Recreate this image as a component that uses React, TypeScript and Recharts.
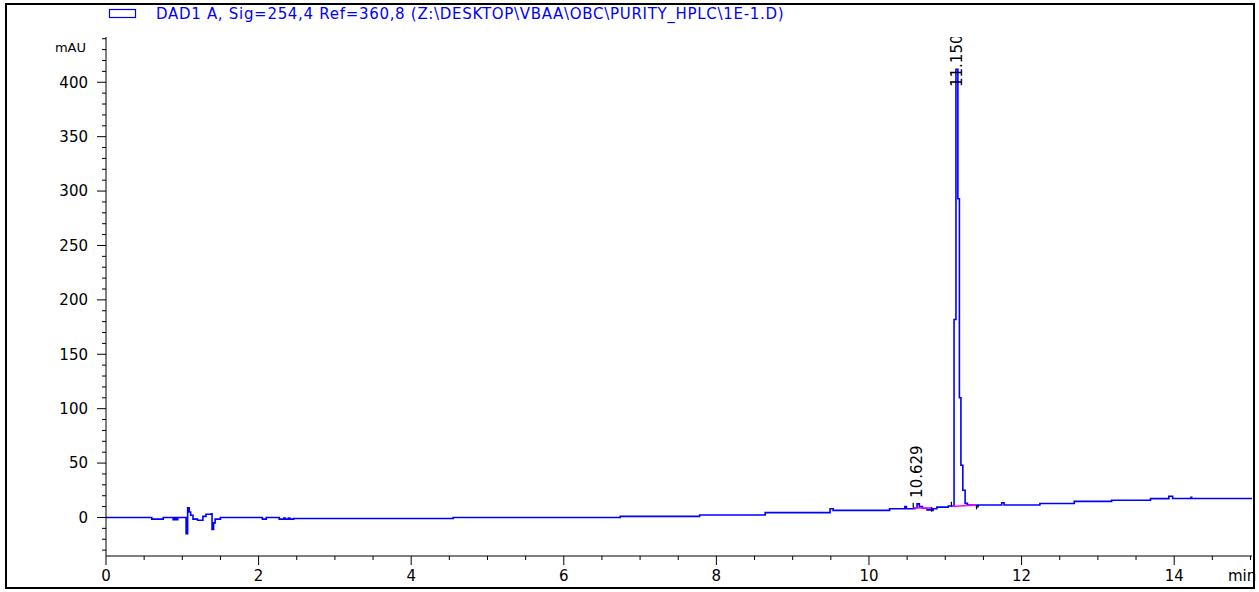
import React from 'react';
import { ComposedChart, Line, Scatter, XAxis, YAxis, ReferenceLine } from 'recharts';

// chromatogram trace: [time (min), signal (mAU)]
const traceTime = [
  0, 0.6, 0.75, 0.88, 0.9, 0.92, 0.94, 1.05, 1.07, 1.09, 1.11, 1.14, 1.2, 1.27, 1.31, 1.38, 1.39, 1.41, 1.43, 1.5,
  2.05, 2.1, 2.27, 2.33, 2.35, 2.39, 2.41, 2.46, 4.55, 6.74, 7.78, 8.64, 9.49, 9.53, 10.27, 10.47, 10.49,
  10.6, 10.63, 10.66, 10.7, 10.76, 10.8, 10.82, 10.84, 10.89, 11.04, 11.115, 11.14, 11.165, 11.185, 11.205,
  11.23, 11.26, 11.29, 11.41, 11.43, 11.74, 11.77, 12.24, 12.69, 13.18, 13.69, 13.93, 13.98, 14.22, 14.23, 15.02,
];
const traceSignal = [
  0, -1.5, 0, -2, 0, -2, 0, -15, 9, 5, 2, -1.5, -2.5, 1, 3, 3.5, -11, -5, -1.5, 0,
  -1.5, 0, -1.5, -0.5, -1.5, -0.5, -1.5, -1, 0, 1, 2.3, 4.5, 8, 6.5, 8, 10, 8,
  9, 12.5, 10, 8.5, 7, 8.5, 6.5, 8, 9.5, 10.5, 182, 412, 293, 110,
  48, 25, 13, 11.5, 10, 11.5, 13.5, 11.5, 12.8, 14.8, 15.8, 17.3, 19.5, 17.5, 18.5, 17.5, 17.5,
];

// integration baselines (pink)
const base1Time = [10.58, 10.82];
const base1Signal = [9, 8.5];
const base2Time = [11.08, 11.41];
const base2Signal = [10, 11.5];

// integration start/stop marks
const markTime = [10.58, 10.82, 11.08, 11.41];
const markFrom = [9, 9.5, 10, 11.5];
const markTo = [13.5, 5.5, 14.5, 7.5];

// peaks
const peakTime = [10.629, 11.15];
const peakSignal = [12.5, 412];
const peakLabels = ['10.629', '11.150'];

const xTicks = [0, 0.5, 1, 1.5, 2, 2.5, 3, 3.5, 4, 4.5, 5, 5.5, 6, 6.5, 7, 7.5, 8, 8.5, 9, 9.5, 10, 10.5, 11, 11.5, 12, 12.5, 13, 13.5, 14, 14.5, 15];
const yTicks = [-30, -20, -10, 0, 10, 20, 30, 40, 50, 60, 70, 80, 90, 100, 110, 120, 130, 140, 150, 160, 170, 180, 190, 200,
  210, 220, 230, 240, 250, 260, 270, 280, 290, 300, 310, 320, 330, 340, 350, 360, 370, 380, 390, 400, 410, 420, 430, 440];

const W = 1259;
const H = 592;
const MARGIN = { top: 37, right: 7, left: 50, bottom: 0 };
const FONT = '"DejaVu Sans", Verdana, sans-serif';
const BLUE = '#0000ff';

const trace = traceTime.map((t, i) => ({ t, v: traceSignal[i] }));
const base1 = base1Time.map((t, i) => ({ t, v: base1Signal[i] }));
const base2 = base2Time.map((t, i) => ({ t, v: base2Signal[i] }));
const peaks = peakTime.map((t, i) => ({ t, v: peakSignal[i], label: peakLabels[i] }));

function YTick({ x, y, payload }: any) {
  const major = payload.value % 50 === 0;
  return (
    <g>
      <line x1={x - (major ? 9 : 4)} x2={x} y1={y} y2={y} stroke="#000" />
      {major && (
        <text x={x - 18} y={y} dy="0.36em" textAnchor="end" fontSize={15} fontFamily={FONT} fill="#000">
          {payload.value}
        </text>
      )}
    </g>
  );
}

function XTick({ x, y, payload }: any) {
  const major = payload.value % 2 === 0;
  return (
    <g>
      <line x1={x} x2={x} y1={y} y2={y + (major ? 9 : 4)} stroke="#000" />
      {major && (
        <text x={x} y={y + 20} dy="0.36em" textAnchor="middle" fontSize={15} fontFamily={FONT} fill="#000">
          {payload.value}
        </text>
      )}
    </g>
  );
}

function PeakLabel({ cx, cy, payload }: any) {
  const bottom = Math.max(cy - 6, MARGIN.top + 50);
  const x = cx + 5;
  return (
    <text x={x} y={bottom} transform={`rotate(-90, ${x}, ${bottom})`} fontSize={15} fontFamily={FONT} fill="#000">
      {payload.label}
    </text>
  );
}

export default function App() {
  return (
    <div style={{ position: 'fixed', left: 0, top: 0, width: W, height: H, background: '#fff' }}>
      <ComposedChart width={W} height={H} margin={MARGIN}>
        <XAxis
          type="number"
          dataKey="t"
          domain={[0, 15.02]}
          ticks={xTicks}
          interval={0}
          tickSize={0}
          tickMargin={0}
          tick={<XTick />}
          tickLine={false}
          axisLine={{ stroke: '#000' }}
          height={36}
          allowDataOverflow
        />
        <YAxis
          type="number"
          domain={[-35.4, 441.6]}
          ticks={yTicks}
          interval={0}
          tickSize={0}
          tickMargin={0}
          tick={<YTick />}
          tickLine={false}
          axisLine={{ stroke: '#000' }}
          width={56}
          allowDataOverflow
        />
        <Line data={trace} dataKey="v" type="stepAfter" stroke={BLUE} strokeWidth={1.6} dot={false} isAnimationActive={false} />
        <Line data={base1} dataKey="v" type="linear" stroke="#ff00ff" strokeWidth={1.5} dot={false} isAnimationActive={false} />
        <Line data={base2} dataKey="v" type="linear" stroke="#ff00ff" strokeWidth={1.5} dot={false} isAnimationActive={false} />
        {markTime.map((t, i) => (
          <ReferenceLine
            key={i}
            segment={[{ x: t, y: markFrom[i] }, { x: t, y: markTo[i] }]}
            stroke="#000"
            strokeWidth={1.2}
          />
        ))}
        <Scatter data={peaks} dataKey="v" shape={<PeakLabel />} isAnimationActive={false} />
      </ComposedChart>
      <svg width={W} height={H} style={{ position: 'absolute', left: 0, top: 0, pointerEvents: 'none' }}>
        <rect x={109.5} y={9.5} width={26} height={8} fill="none" stroke={BLUE} strokeWidth={1.2} />
        <text x={156} y={19} fontSize={15} letterSpacing={0.7} fontFamily={FONT} fill={BLUE}>
          {'DAD1 A, Sig=254,4 Ref=360,8 (Z:\\DESKTOP\\VBAA\\OBC\\PURITY_HPLC\\1E-1.D)'}
        </text>
        <text x={86} y={52} textAnchor="end" fontSize={13} fontFamily={FONT} fill="#000">mAU</text>
        <text x={1228} y={581} fontSize={15} fontFamily={FONT} fill="#000">min</text>
        <rect x={6} y={4} width={1248} height={584} fill="none" stroke="#000" strokeWidth={2} />
      </svg>
    </div>
  );
}
